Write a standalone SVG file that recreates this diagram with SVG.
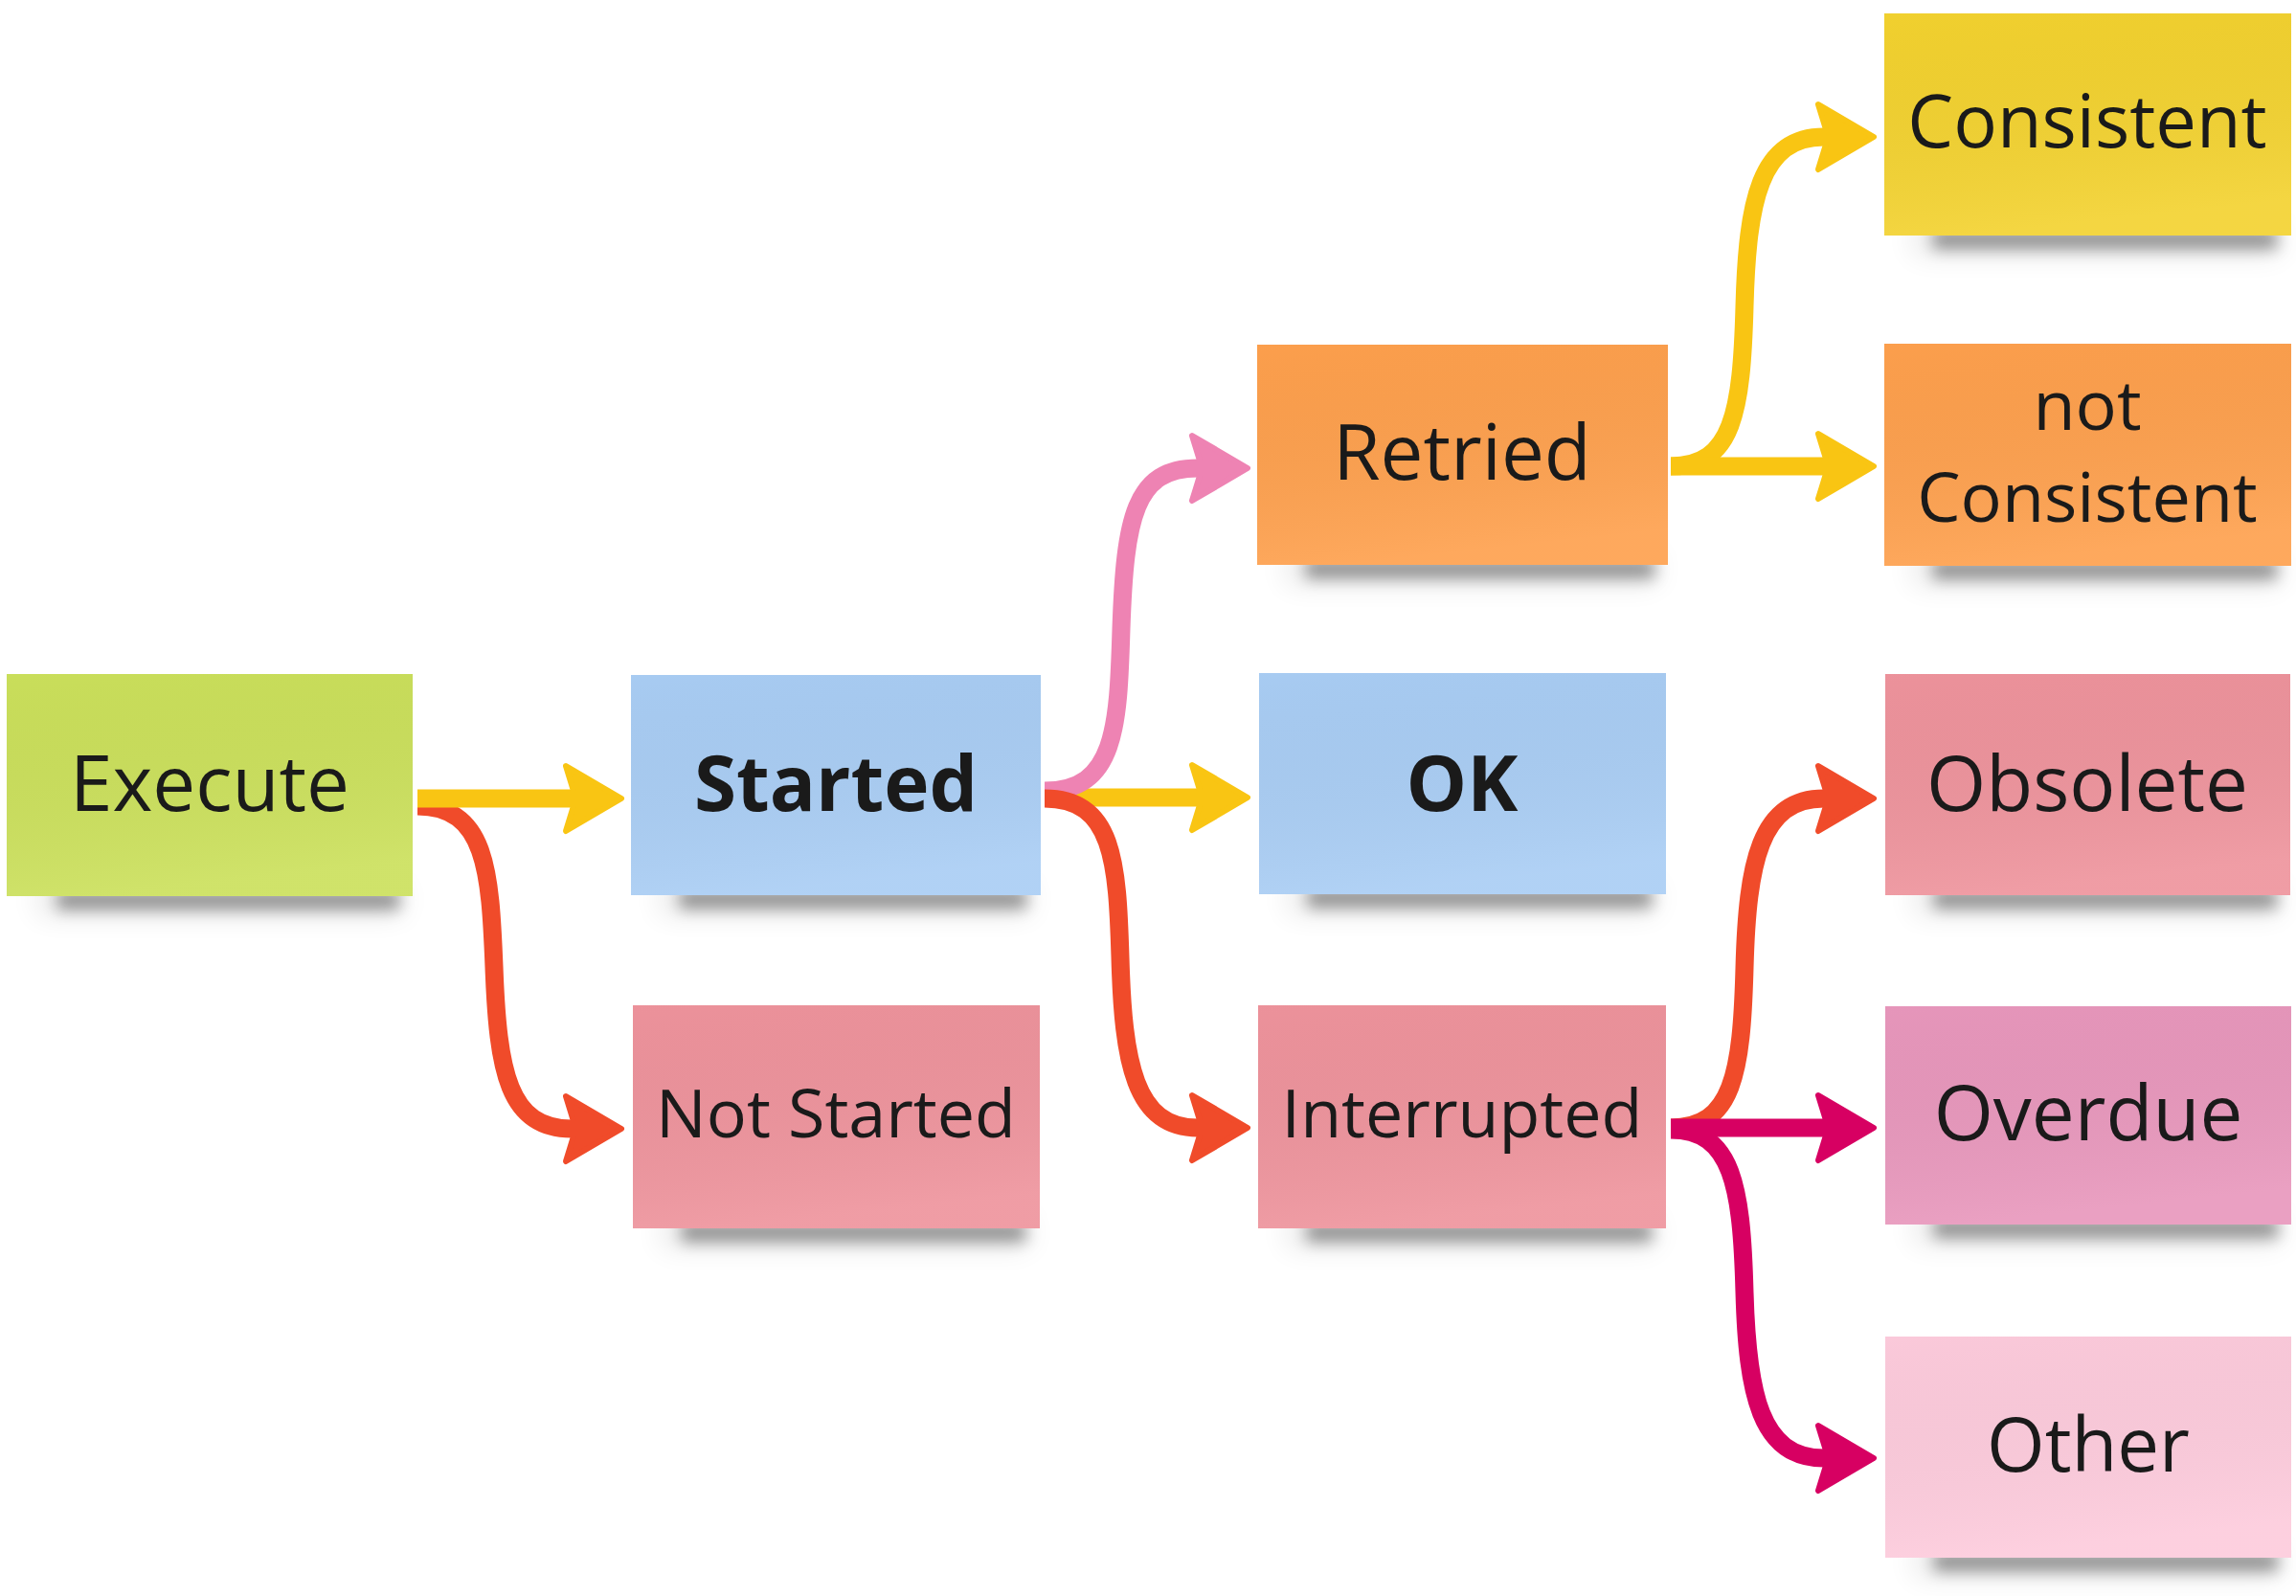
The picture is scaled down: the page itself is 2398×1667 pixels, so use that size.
<svg xmlns="http://www.w3.org/2000/svg" width="2398" height="1667" viewBox="0 0 2398 1667">
<style>
  .lbl { font-family: "Open Sans", "Noto Sans", "Liberation Sans", sans-serif; fill: #1a1a1a; text-anchor: middle; }
  .b { font-weight: 700; }
  .shadow { fill: #000; opacity: 0.38; filter: url(#blur); }
  .shadow2 { fill: #000; opacity: 0.1; filter: url(#blur2); }
  .sheen { fill: url(#sheen); }
  .conn { fill: none; stroke-width: 19; stroke-linecap: butt; stroke-linejoin: round; }
  .yellow { stroke: #f9c513; }
  .red { stroke: #f04b2a; }
  .pink { stroke: #ee83b3; }
  .mag { stroke: #d70062; }
</style>
<defs>
  <filter id="blur" x="-20%" y="-200%" width="140%" height="500%"><feGaussianBlur stdDeviation="8"/></filter>
  <filter id="blur2" x="-20%" y="-200%" width="140%" height="500%"><feGaussianBlur stdDeviation="15"/></filter>
  <linearGradient id="sheen" x1="0" y1="0" x2="0.2" y2="1">
    <stop offset="0" stop-color="#000" stop-opacity="0.01"/>
    <stop offset="1" stop-color="#fff" stop-opacity="0.09"/>
  </linearGradient>
  <marker id="ah-yellow" markerUnits="userSpaceOnUse" orient="auto" refX="0" refY="0" viewBox="-15 -45 80 90" markerWidth="80" markerHeight="90" overflow="visible">
    <path d="M -6,-34 L 52,0 L -6,34 L 2,8 L 2,-8 Z" fill="#f9c513" stroke="#f9c513" stroke-width="6" stroke-linejoin="round"/>
  </marker>
  <marker id="ah-red" markerUnits="userSpaceOnUse" orient="auto" refX="0" refY="0" viewBox="-15 -45 80 90" markerWidth="80" markerHeight="90" overflow="visible">
    <path d="M -6,-34 L 52,0 L -6,34 L 2,8 L 2,-8 Z" fill="#f04b2a" stroke="#f04b2a" stroke-width="6" stroke-linejoin="round"/>
  </marker>
  <marker id="ah-pink" markerUnits="userSpaceOnUse" orient="auto" refX="0" refY="0" viewBox="-15 -45 80 90" markerWidth="80" markerHeight="90" overflow="visible">
    <path d="M -6,-34 L 52,0 L -6,34 L 2,8 L 2,-8 Z" fill="#ee83b3" stroke="#ee83b3" stroke-width="6" stroke-linejoin="round"/>
  </marker>
  <marker id="ah-mag" markerUnits="userSpaceOnUse" orient="auto" refX="0" refY="0" viewBox="-15 -45 80 90" markerWidth="80" markerHeight="90" overflow="visible">
    <path d="M -6,-34 L 52,0 L -6,34 L 2,8 L 2,-8 Z" fill="#d70062" stroke="#d70062" stroke-width="6" stroke-linejoin="round"/>
  </marker>
</defs>
<rect x="0" y="0" width="2398" height="1667" fill="#ffffff"/>

<g id="node-execute">
  <rect class="shadow2" x="40" y="925" width="380" height="30"/>
  <rect class="shadow" x="60" y="930" width="357" height="20"/>
  <rect x="7" y="704" width="424" height="232" fill="#cbe05b"/>
  <rect class="sheen" x="7" y="704" width="424" height="232"/>
  <text class="lbl" x="219" y="847" font-size="80">Execute</text>
</g>
<g id="node-started">
  <rect class="shadow2" x="690" y="924" width="385" height="30"/>
  <rect class="shadow" x="710" y="929" width="362" height="20"/>
  <rect x="659" y="705" width="428" height="230" fill="#a9cdf4"/>
  <rect class="sheen" x="659" y="705" width="428" height="230"/>
  <text class="lbl b" x="873" y="847" font-size="80">Started</text>
</g>
<g id="node-not-started">
  <rect class="shadow2" x="692" y="1272" width="382" height="30"/>
  <rect class="shadow" x="712" y="1277" width="359" height="20"/>
  <rect x="661" y="1050" width="425" height="233" fill="#ee939c"/>
  <rect class="sheen" x="661" y="1050" width="425" height="233"/>
  <text class="lbl" x="873" y="1188" font-size="70">Not Started</text>
</g>
<g id="node-retried">
  <rect class="shadow2" x="1344" y="579" width="386" height="30"/>
  <rect class="shadow" x="1364" y="584" width="364" height="20"/>
  <rect x="1313" y="360" width="429" height="230" fill="#fea04d"/>
  <rect class="sheen" x="1313" y="360" width="429" height="230"/>
  <text class="lbl" x="1527" y="501" font-size="80">Retried</text>
</g>
<g id="node-ok">
  <rect class="shadow2" x="1346" y="923" width="382" height="30"/>
  <rect class="shadow" x="1366" y="928" width="359" height="20"/>
  <rect x="1315" y="703" width="425" height="231" fill="#a9cdf4"/>
  <rect class="sheen" x="1315" y="703" width="425" height="231"/>
  <text class="lbl b" x="1527" y="847" font-size="80">OK</text>
</g>
<g id="node-interrupted">
  <rect class="shadow2" x="1345" y="1272" width="383" height="30"/>
  <rect class="shadow" x="1365" y="1277" width="360" height="20"/>
  <rect x="1314" y="1050" width="426" height="233" fill="#ee939c"/>
  <rect class="sheen" x="1314" y="1050" width="426" height="233"/>
  <text class="lbl" x="1527" y="1188" font-size="70">Interrupted</text>
</g>
<g id="node-consistent">
  <rect class="shadow2" x="1999" y="235" width="382" height="30"/>
  <rect class="shadow" x="2019" y="240" width="359" height="20"/>
  <rect x="1968" y="14" width="425" height="232" fill="#f3d22f"/>
  <rect class="sheen" x="1968" y="14" width="425" height="232"/>
  <text class="lbl" x="2180" y="154" font-size="76">Consistent</text>
</g>
<g id="node-not-consistent">
  <rect class="shadow2" x="1999" y="580" width="382" height="30"/>
  <rect class="shadow" x="2019" y="585" width="359" height="20"/>
  <rect x="1968" y="359" width="425" height="232" fill="#fea04d"/>
  <rect class="sheen" x="1968" y="359" width="425" height="232"/>
  <text class="lbl" x="2180" y="449" font-size="72">not</text>
  <text class="lbl" x="2180" y="545" font-size="72">Consistent</text>
</g>
<g id="node-obsolete">
  <rect class="shadow2" x="2000" y="924" width="380" height="30"/>
  <rect class="shadow" x="2020" y="929" width="358" height="20"/>
  <rect x="1969" y="704" width="423" height="231" fill="#ee939c"/>
  <rect class="sheen" x="1969" y="704" width="423" height="231"/>
  <text class="lbl" x="2180" y="847" font-size="80">Obsolete</text>
</g>
<g id="node-overdue">
  <rect class="shadow2" x="2000" y="1268" width="381" height="30"/>
  <rect class="shadow" x="2020" y="1273" width="359" height="20"/>
  <rect x="1969" y="1051" width="424" height="228" fill="#e897bc"/>
  <rect class="sheen" x="1969" y="1051" width="424" height="228"/>
  <text class="lbl" x="2181" y="1191" font-size="80">Overdue</text>
</g>
<g id="node-other">
  <rect class="shadow2" x="2000" y="1616" width="381" height="30"/>
  <rect class="shadow" x="2020" y="1621" width="359" height="20"/>
  <rect x="1969" y="1396" width="424" height="231" fill="#fdcbdc"/>
  <rect class="sheen" x="1969" y="1396" width="424" height="231"/>
  <text class="lbl" x="2181" y="1537" font-size="78">Other</text>
</g>

<g id="connectors">
  <path class="conn red" marker-end="url(#ah-red)" d="M 436,842 C 508,842 512,910 516,1010 C 520,1120 531,1179 597,1179"/>
  <path class="conn yellow" marker-end="url(#ah-yellow)" d="M 436,834 L 597,834"/>

  <path class="conn yellow" marker-end="url(#ah-yellow)" d="M 1091,833 L 1251,833"/>
  <path class="conn pink" marker-end="url(#ah-pink)" d="M 1091,826 C 1165,826 1168,760 1171,657 C 1175,540 1185,489 1251,489"/>
  <path class="conn red" marker-end="url(#ah-red)" d="M 1091,834 C 1163,834 1167,900 1170,1000 C 1173,1110 1185,1178 1251,1178"/>

  <path class="conn yellow" marker-end="url(#ah-yellow)" d="M 1745,487 C 1810,487 1819,430 1822,320 C 1825,210 1838,143 1905,143"/>
  <path class="conn yellow" marker-end="url(#ah-yellow)" d="M 1745,487 L 1905,487"/>

  <path class="conn red" marker-end="url(#ah-red)" d="M 1745,1178 C 1810,1178 1819,1121 1822,1011 C 1825,901 1838,834 1905,834"/>
  <path class="conn mag" marker-end="url(#ah-mag)" d="M 1745,1180 C 1810,1180 1819,1240 1822,1350 C 1825,1455 1838,1523 1905,1523"/>
  <path class="conn mag" marker-end="url(#ah-mag)" d="M 1745,1178 L 1905,1178"/>
</g>
</svg>
